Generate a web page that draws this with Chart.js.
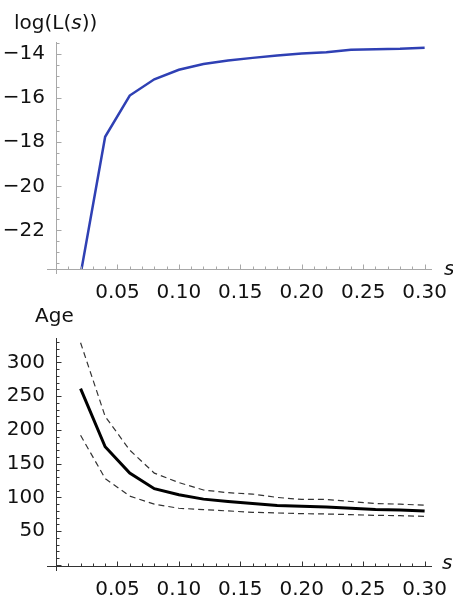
<!DOCTYPE html>
<html lang="en">
<head>
<meta charset="UTF-8">
<title>log L(s) and Age vs s</title>
<script src="https://cdn.jsdelivr.net/npm/chart.js@4.4.1/dist/chart.umd.min.js"></script>
<style>
    body { margin: 0; background: #fff; }
    #wrap { position: relative; width: 453px; height: 596px; font-family: 'DejaVu Sans', sans-serif; }
    canvas { position: absolute; left: 0; }
    .lbl { position: absolute; font-size: 20px; line-height: 20px; color: #111; white-space: nowrap; z-index: 2; }
</style>
</head>
<body>
<div id="wrap">
    <canvas id="topChart" width="453" height="300" style="top:0"></canvas>
    <canvas id="ageChart" width="453" height="296" style="top:300px"></canvas>
    <div class="lbl" style="left:14px;top:12px">log(L(<i>s</i>))</div>
    <div class="lbl" style="left:444px;top:258px"><i>s</i></div>
    <div class="lbl" style="left:35px;top:305px">Age</div>
    <div class="lbl" style="left:442px;top:552px"><i>s</i></div>
</div>
<script>
    // values
    var sValues = [0.02, 0.04, 0.06, 0.08, 0.10, 0.12, 0.14, 0.16, 0.18, 0.20, 0.22, 0.24, 0.26, 0.28, 0.30];
    var logL = [-24.0, -17.75, -15.88, -15.14, -14.71, -14.45, -14.29, -14.17, -14.06, -13.97, -13.91, -13.80, -13.78, -13.76, -13.71];
    var ageMean = [261, 175, 136, 113, 104, 97.5, 94, 91, 88, 87, 86, 84, 82, 81.5, 80];
    var ageUpper = [329, 220, 170, 136, 122, 111, 107, 105, 100, 97, 97, 94, 91, 90, 88.5];
    var ageLower = [192, 128, 102, 90, 84, 82, 80, 78, 77, 76, 75.5, 74.5, 73.5, 73, 72];

    function pts(ys) {
        return sValues.map(function (s, i) { return {x: s, y: ys[i]}; });
    }

    // Mathematica-like axes: crossing lines with inward major/minor ticks
    var mmaAxes = {
        id: 'mmaAxes',
        afterDraw: function (chart, args, opts) {
            var ctx = chart.ctx, xs = chart.scales.x, ys = chart.scales.y;
            var a = chart.chartArea;
            ctx.save();
            ctx.strokeStyle = opts.color;
            ctx.lineWidth = 1;
            ctx.beginPath();
            var yb = Math.round(a.bottom) + 0.5, xl = Math.round(a.left) + 0.5;
            ctx.moveTo(a.left - 9, yb); ctx.lineTo(a.right, yb);
            ctx.moveTo(xl, a.top); ctx.lineTo(xl, a.bottom + 5);
            var k, v, p, len;
            for (k = 1; k * opts.xMinor <= xs.max + 1e-9; k++) {
                v = k * opts.xMinor;
                p = Math.round(xs.getPixelForValue(v)) + 0.5;
                len = (k % opts.xEvery === 0) ? 5 : 3;
                ctx.moveTo(p, yb); ctx.lineTo(p, yb - len);
            }
            var k0 = Math.ceil(ys.min / opts.yMinor - 1e-9);
            for (k = k0; k * opts.yMinor <= ys.max + 1e-9; k++) {
                v = k * opts.yMinor;
                p = Math.round(ys.getPixelForValue(v)) + 0.5;
                len = (k % opts.yEvery === 0) ? 5 : 3;
                ctx.moveTo(xl, p); ctx.lineTo(xl + len, p);
            }
            ctx.stroke();
            ctx.restore();
        }
    };

    var tickFont = {family: "'DejaVu Sans', sans-serif", size: 20};

    function xScale(h) {
        return {
            type: 'linear', min: 0, max: 0.306,
            grid: {display: false}, border: {display: false},
            afterFit: function (sc) { sc.height = h; },
            ticks: {
                stepSize: 0.05, includeBounds: false, autoSkip: false, maxRotation: 0,
                padding: 4, color: '#111', font: tickFont,
                callback: function (v) { return Math.abs(v) < 1e-9 ? '' : v.toFixed(2); }
            }
        };
    }

    function yScale(min, max, step) {
        return {
            type: 'linear', min: min, max: max,
            grid: {display: false}, border: {display: false},
            afterFit: function (sc) { sc.width = 56; },
            ticks: {
                stepSize: step, includeBounds: false, padding: 3, color: '#111', font: tickFont,
                callback: function (v) {
                    if (Math.abs(v) < 1e-9) return '';
                    return v < 0 ? '\u2212' + Math.abs(v) : String(v);
                }
            }
        };
    }

    new Chart(document.getElementById('topChart').getContext('2d'), {
        type: 'line',
        data: {
            datasets: [{
                data: pts(logL),
                borderColor: '#2f40b4',
                borderWidth: 2.5,
                pointRadius: 0,
                tension: 0
            }]
        },
        options: {
            responsive: false,
            animation: false,
            layout: {padding: {left: 0, top: 42, right: 21, bottom: 0}},
            plugins: {
                legend: {display: false},
                tooltip: {enabled: false},
                mmaAxes: {color: '#a8a8a8', xMinor: 0.01, xEvery: 5, yMinor: 0.5, yEvery: 4}
            },
            scales: {x: xScale(31), y: yScale(-23.75, -13.45, 2)}
        },
        plugins: [mmaAxes]
    });

    new Chart(document.getElementById('ageChart').getContext('2d'), {
        type: 'line',
        data: {
            datasets: [{
                data: pts(ageMean),
                borderColor: '#000',
                borderWidth: 3,
                pointRadius: 0,
                tension: 0
            }, {
                data: pts(ageUpper),
                borderColor: '#333',
                borderWidth: 1.2,
                borderDash: [6, 4],
                pointRadius: 0,
                tension: 0
            }, {
                data: pts(ageLower),
                borderColor: '#333',
                borderWidth: 1.2,
                borderDash: [6, 4],
                pointRadius: 0,
                tension: 0
            }]
        },
        options: {
            responsive: false,
            animation: false,
            layout: {padding: {left: 0, top: 38, right: 21, bottom: 0}},
            plugins: {
                legend: {display: false},
                tooltip: {enabled: false},
                mmaAxes: {color: '#333', xMinor: 0.01, xEvery: 5, yMinor: 10, yEvery: 5}
            },
            scales: {x: xScale(30), y: yScale(-1.5, 336, 50)}
        },
        plugins: [mmaAxes]
    });
</script>
</body>
</html>
